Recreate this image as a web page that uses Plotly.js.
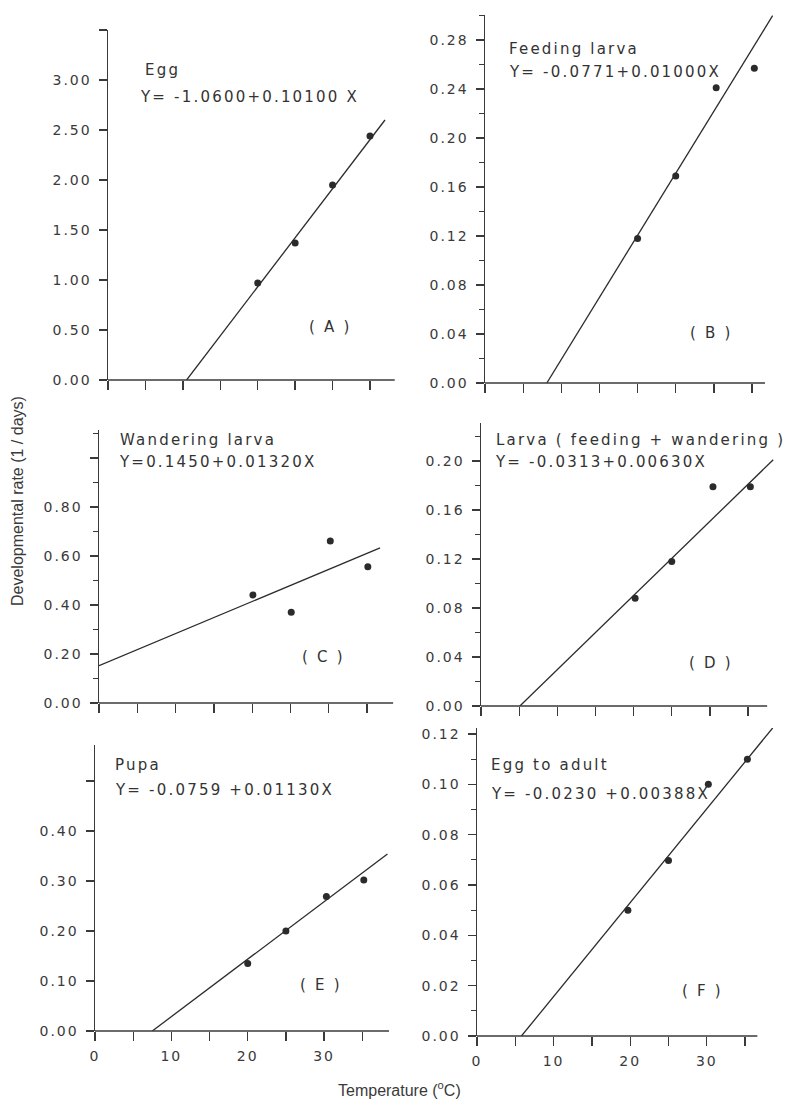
<!DOCTYPE html>
<html>
<head>
<meta charset="utf-8">
<script src="https://cdn.plot.ly/plotly-3.0.1.min.js"></script>
<style>
  html, body { margin: 0; padding: 0; background: #ffffff; }
  #chart { width: 791px; height: 1100px; }
  g[class*="tick"] > text { letter-spacing: 2px; }
  .annotation:not([data-index="0"]):not([data-index="1"]) text { letter-spacing: 2.2px; }
</style>
</head>
<body>
<div id="chart"></div>
<script>
// ---------------- data ----------------
const eggX = [20, 25, 30, 35];
const eggY = [0.97, 1.37, 1.95, 2.44];
const eggLineX = [10.5, 37.0];
const eggLineY = [0, 2.6];

const feedX = [20, 25, 30.3, 35.3];
const feedY = [0.118, 0.169, 0.241, 0.257];
const feedLineX = [8.1, 37.7];
const feedLineY = [0, 0.30];

const wandX = [20.1, 25.1, 30.2, 35.1];
const wandY = [0.441, 0.370, 0.661, 0.556];
const wandLineX = [0, 36.7];
const wandLineY = [0.152, 0.633];

const larvaX = [20.2, 25, 30.4, 35.3];
const larvaY = [0.088, 0.118, 0.179, 0.179];
const larvaLineX = [5.1, 38.3];
const larvaLineY = [0, 0.201];

const pupaX = [20, 25, 30.3, 35.2];
const pupaY = [0.135, 0.200, 0.269, 0.302];
const pupaLineX = [7.5, 38.3];
const pupaLineY = [0, 0.354];

const adultX = [19.7, 25, 30.2, 35.3];
const adultY = [0.050, 0.0697, 0.100, 0.110];
const adultLineX = [5.8, 38.6];
const adultLineY = [0, 0.1224];

const stageNames = ['Egg', 'Feeding larva', 'Wandering larva',
  'Larva ( feeding + wandering )', 'Pupa', 'Egg to adult'];
const equations = ['Y= -1.0600+0.10100 X', 'Y= -0.0771+0.01000X', 'Y=0.1450+0.01320X',
  'Y= -0.0313+0.00630X', 'Y= -0.0759 +0.01130X', 'Y= -0.0230 +0.00388X'];
const panelTags = ['( A )', '( B )', '( C )', '( D )', '( E )', '( F )'];

const xTicks = [0, 5, 10, 15, 20, 25, 30, 35];
const xTickText = ['0', '', '10', '', '20', '', '30', ''];

const yTicksA = [0, 0.5, 1.0, 1.5, 2.0, 2.5, 3.0, 3.5];
const yTextA = ['0.00', '0.50', '1.00', '1.50', '2.00', '2.50', '3.00', ''];
const yTicksB = [0, 0.04, 0.08, 0.12, 0.16, 0.20, 0.24, 0.28];
const yTextB = ['0.00', '0.04', '0.08', '0.12', '0.16', '0.20', '0.24', '0.28'];
const yTicksC = [0, 0.2, 0.4, 0.6, 0.8, 1.0];
const yTextC = ['0.00', '0.20', '0.40', '0.60', '0.80', ''];
const yTicksD = [0, 0.04, 0.08, 0.12, 0.16, 0.20];
const yTextD = ['0.00', '0.04', '0.08', '0.12', '0.16', '0.20'];
const yTicksE = [0, 0.1, 0.2, 0.3, 0.4, 0.5];
const yTextE = ['0.00', '0.10', '0.20', '0.30', '0.40', ''];
const yTicksF = [0, 0.02, 0.04, 0.06, 0.08, 0.10, 0.12];
const yTextF = ['0.00', '0.02', '0.04', '0.06', '0.08', '0.10', '0.12'];

const xTitle = 'Temperature (<sup>o</sup>C)';
const yTitle = 'Developmental rate (1 / days)';

// ---------------- layout of the six panels (pixels) ----------------
const W = 791, H = 1100;
const fx = p => p / W;
const fy = p => 1 - p / H;

const panels = [
  { x: eggX, y: eggY, lx: eggLineX, ly: eggLineY, yt: yTicksA, ytt: yTextA,
    xPx: [108, 394.7], xMax: 38.3, axisEnd: 38.3, yPx: [30, 380], yMax: 3.5, minor: null, xlab: false,
    namePos: [143, 70], eqPos: [138, 97], tagPos: [327, 327] },
  { x: feedX, y: feedY, lx: feedLineX, ly: feedLineY, yt: yTicksB, ytt: yTextB,
    xPx: [485, 773.4], xMax: 37.8, axisEnd: 36.7, yPx: [15, 383], yMax: 0.3005, minor: 0.02, xlab: false,
    namePos: [507, 49], eqPos: [507, 72], tagPos: [708, 333] },
  { x: wandX, y: wandY, lx: wandLineX, ly: wandLineY, yt: yTicksC, ytt: yTextC,
    xPx: [99, 393.1], xMax: 38.4, axisEnd: 38.4, yPx: [430, 703], yMax: 1.114, minor: 0.1, xlab: false,
    namePos: [118, 440], eqPos: [117, 462], tagPos: [320, 657] },
  { x: larvaX, y: larvaY, lx: larvaLineX, ly: larvaLineY, yt: yTicksD, ytt: yTextD,
    xPx: [481, 774], xMax: 38.4, axisEnd: 37.5, yPx: [423, 706], yMax: 0.231, minor: 0.02, xlab: false,
    namePos: [494, 440], eqPos: [493, 462], tagPos: [707, 663] },
  { x: pupaX, y: pupaY, lx: pupaLineX, ly: pupaLineY, yt: yTicksE, ytt: yTextE,
    xPx: [95, 389], xMax: 38.5, axisEnd: 38.5, yPx: [745, 1031], yMax: 0.572, minor: null, xlab: true,
    namePos: [113, 765], eqPos: [113, 790], tagPos: [318, 985] },
  { x: adultX, y: adultY, lx: adultLineX, ly: adultLineY, yt: yTicksF, ytt: yTextF,
    xPx: [477, 774.2], xMax: 38.8, axisEnd: 36.6, yPx: [728, 1036], yMax: 0.1224, minor: 0.01, xlab: true,
    namePos: [489, 765], eqPos: [489, 794], tagPos: [700, 991] }
];

const ink = '#2b2b2b';
const axisInk = '#3a3a3a';
const drafting = 'DejaVu Sans, sans-serif';

const traces = [];
const layout = {
  width: W, height: H,
  margin: { l: 0, r: 0, t: 0, b: 0 },
  paper_bgcolor: '#ffffff',
  plot_bgcolor: 'rgba(0,0,0,0)',
  showlegend: false,
  shapes: [],
  annotations: [
    { xref: 'paper', yref: 'paper', x: fx(17), y: fy(501), text: yTitle, showarrow: false,
      textangle: -90, xanchor: 'center', yanchor: 'middle',
      font: { family: 'Liberation Sans, Arial, sans-serif', size: 16, color: '#3a3a3a' } },
    { xref: 'paper', yref: 'paper', x: fx(400), y: fy(1089), text: xTitle, showarrow: false,
      xanchor: 'center', yanchor: 'middle',
      font: { family: 'Liberation Sans, Arial, sans-serif', size: 16, color: '#3a3a3a' } }
  ]
};

panels.forEach((p, i) => {
  const n = i === 0 ? '' : String(i + 1);
  const xa = 'x' + n, ya = 'y' + n;
  traces.push({
    type: 'scatter', mode: 'lines', x: p.lx, y: p.ly, xaxis: xa, yaxis: ya,
    line: { color: ink, width: 1.3 }, hoverinfo: 'skip'
  });
  traces.push({
    type: 'scatter', mode: 'markers', x: p.x, y: p.y, xaxis: xa, yaxis: ya,
    marker: { color: ink, size: 7 }, cliponaxis: false
  });
  layout['xaxis' + n] = {
    domain: [fx(p.xPx[0]), fx(p.xPx[1])], range: [0, p.xMax], anchor: ya,
    showgrid: false, zeroline: false, showline: false,
    tickmode: 'array', tickvals: xTicks, ticktext: p.xlab ? xTickText : xTicks.map(() => ''),
    ticks: 'outside', ticklen: 9, tickwidth: 1.3, tickcolor: axisInk,
    showticklabels: p.xlab, ticklabelstandoff: 3,
    tickfont: { family: drafting, size: 14, color: '#3a3a3a' }, fixedrange: true
  };
  const yax = {
    domain: [fy(p.yPx[1]), fy(p.yPx[0])], range: [0, p.yMax], anchor: xa,
    showgrid: false, zeroline: false, showline: true, linecolor: axisInk, linewidth: 1.5,
    tickmode: 'array', tickvals: p.yt, ticktext: p.ytt,
    ticks: 'outside', ticklen: 8, tickwidth: 1.3, tickcolor: axisInk,
    ticklabelstandoff: 4,
    tickfont: { family: drafting, size: 14, color: '#3a3a3a' }, fixedrange: true
  };
  if (p.minor) {
    yax.minor = { tick0: 0, dtick: p.minor, ticks: 'outside', ticklen: 5, tickwidth: 1.2,
      tickcolor: axisInk, showgrid: false };
  }
  layout['yaxis' + n] = yax;
  // x-axis base line, ending where the drawn axis ends
  layout.shapes.push({
    type: 'line', xref: xa + ' domain', yref: ya + ' domain',
    x0: 0, x1: p.axisEnd / p.xMax, y0: 0, y1: 0,
    line: { color: axisInk, width: 1.5 }
  });
  const tf = { family: drafting, size: 15, color: '#333333' };
  layout.annotations.push(
    { xref: 'paper', yref: 'paper', x: fx(p.namePos[0]), y: fy(p.namePos[1]), text: stageNames[i],
      showarrow: false, xanchor: 'left', yanchor: 'middle', align: 'left', font: tf },
    { xref: 'paper', yref: 'paper', x: fx(p.eqPos[0]), y: fy(p.eqPos[1]), text: equations[i],
      showarrow: false, xanchor: 'left', yanchor: 'middle', align: 'left', font: tf },
    { xref: 'paper', yref: 'paper', x: fx(p.tagPos[0] - 20), y: fy(p.tagPos[1]), text: panelTags[i],
      showarrow: false, xanchor: 'left', yanchor: 'middle', align: 'left', font: tf }
  );
});

Plotly.newPlot('chart', traces, layout, { displayModeBar: false, staticPlot: true });
</script>
</body>
</html>
